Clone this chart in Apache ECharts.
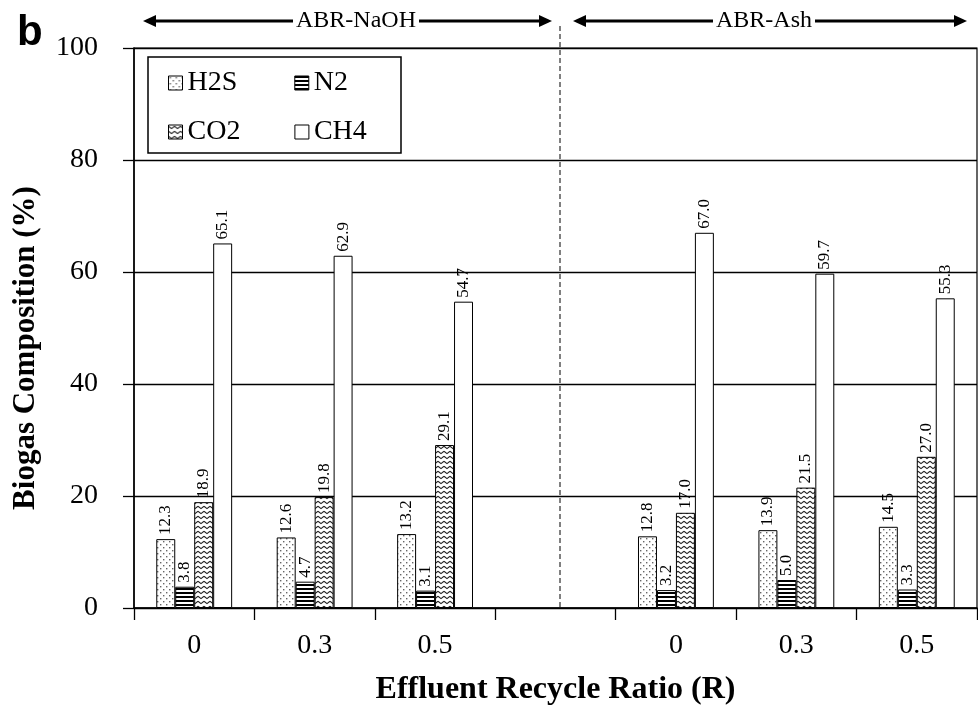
<!DOCTYPE html>
<html>
<head>
<meta charset="utf-8">
<script src="https://cdn.jsdelivr.net/npm/echarts@6/dist/echarts.min.js"></script>
<style>
  html, body { margin: 0; padding: 0; background: #fff; }
  #chart { width: 978px; height: 708px; }
</style>
</head>
<body>
<div id="chart"></div>
<script>
// recycle ratios, blank slot separates the two reactors
var categories = ['0', '0.3', '0.5', '', '0', '0.3', '0.5'];
var h2s = [12.3, 12.6, 13.2, '-', 12.8, 13.9, 14.5];
var n2 = [3.8, 4.7, 3.1, '-', 3.2, 5.0, 3.3];
var co2 = [18.9, 19.8, 29.1, '-', 17.0, 21.5, 27.0];
var ch4 = [65.1, 62.9, 54.7, '-', 67.0, 59.7, 55.3];
var yTicks = [0, 20, 40, 60, 80, 100];

var serif = 'Liberation Serif';

function makePattern(w, h, draw) {
  var c = document.createElement('canvas');
  c.width = w; c.height = h;
  var ctx = c.getContext('2d');
  ctx.fillStyle = '#fff';
  ctx.fillRect(0, 0, w, h);
  draw(ctx);
  return { image: c, repeat: 'repeat' };
}

// dotted fill
var dots = makePattern(6, 6, function (ctx) {
  ctx.fillStyle = '#666';
  ctx.fillRect(1, 1, 1.4, 1.4);
  ctx.fillRect(4, 4, 1.4, 1.4);
});
// horizontal stripes
var stripes = makePattern(4, 4, function (ctx) {
  ctx.fillStyle = '#000';
  ctx.fillRect(0, 0, 4, 2);
});
// zigzag waves
var waves = makePattern(6, 5, function (ctx) {
  ctx.strokeStyle = '#222';
  ctx.lineWidth = 1.1;
  ctx.beginPath();
  ctx.moveTo(0, 1.2);
  ctx.lineTo(3, 3.6);
  ctx.lineTo(6, 1.2);
  ctx.stroke();
});

function barSeries(name, data, fill) {
  return {
    name: name,
    type: 'bar',
    data: data,
    barGap: '0%',
    barCategoryGap: '37%',
    itemStyle: { color: fill, borderColor: '#000', borderWidth: 1 },
    label: {
      show: true,
      position: 'top',
      rotate: 90,
      align: 'left',
      verticalAlign: 'middle',
      distance: 4,
      fontFamily: serif,
      fontSize: 17,
      color: '#000',
      formatter: function (p) { return Number(p.value).toFixed(1); }
    }
  };
}

var chart = echarts.init(document.getElementById('chart'));

var legendText = { fontFamily: serif, fontSize: 28, color: '#000' };

var option = {
  animation: false,
  backgroundColor: '#fff',
  grid: {
    left: 134, right: 1, top: 48, bottom: 100,
    outerBoundsMode: 'none',
    containLabel: false,
    show: true, borderColor: '#000', borderWidth: 1.2
  },
  legend: [
    {
      data: ['H2S', 'N2'], left: 168, top: 69, padding: 0, itemGap: 57,
      icon: 'rect', itemWidth: 14, itemHeight: 14, textStyle: legendText,
      itemStyle: { borderColor: '#000', borderWidth: 1 }
    },
    {
      data: ['CO2', 'CH4'], left: 168, top: 118, padding: 0, itemGap: 54,
      icon: 'rect', itemWidth: 14, itemHeight: 14, textStyle: legendText,
      itemStyle: { borderColor: '#000', borderWidth: 1 }
    }
  ],
  xAxis: {
    type: 'category',
    data: categories,
    name: 'Effluent Recycle Ratio (R)',
    nameLocation: 'middle',
    nameGap: 66,
    nameTextStyle: { fontFamily: serif, fontSize: 32, fontWeight: 'bold', color: '#000' },
    axisLine: { lineStyle: { color: '#000', width: 1.5 } },
    axisTick: { show: true, length: 12, lineStyle: { color: '#000', width: 1.3 } },
    axisLabel: { fontFamily: serif, fontSize: 28, color: '#000', margin: 24 }
  },
  yAxis: {
    type: 'value',
    min: yTicks[0],
    max: yTicks[yTicks.length - 1],
    interval: 20,
    name: 'Biogas Composition (%)',
    nameLocation: 'middle',
    nameRotate: 90,
    nameGap: 93,
    nameTextStyle: {
      fontFamily: serif, fontSize: 31, fontWeight: 'bold', color: '#000',
      padding: [0, 40, 0, 0]
    },
    axisLine: { show: true, lineStyle: { color: '#000', width: 1.5 } },
    axisTick: { show: true, length: 11, lineStyle: { color: '#000', width: 1.3 } },
    axisLabel: { fontFamily: serif, fontSize: 28, color: '#000', margin: 36 },
    splitLine: { lineStyle: { color: '#000', width: 1.3 } }
  },
  graphic: [
    // panel letter
    { type: 'text', left: 17, top: 12,
      style: { text: 'b', font: 'bold 42px "Liberation Sans"', fill: '#000' } },
    // legend frame
    { type: 'rect', shape: { x: 148, y: 57, width: 253, height: 96 },
      style: { fill: 'none', stroke: '#000', lineWidth: 1.5 }, z: 10 },
    // divider between reactors
    { type: 'line', shape: { x1: 560, y1: 26, x2: 560, y2: 607 },
      style: { stroke: '#000', lineWidth: 1, lineDash: [5, 3] }, z: 10 },
    // ABR-NaOH span
    { type: 'line', shape: { x1: 150, y1: 21, x2: 545, y2: 21 },
      style: { stroke: '#000', lineWidth: 3 }, z: 10 },
    { type: 'polygon', shape: { points: [[143, 21], [156, 15], [156, 27]] },
      style: { fill: '#000' }, z: 10 },
    { type: 'polygon', shape: { points: [[552, 21], [539, 15], [539, 27]] },
      style: { fill: '#000' }, z: 10 },
    { type: 'text', x: 356, y: 21, z: 11,
      style: { text: 'ABR-NaOH', font: '24px "Liberation Serif"', fill: '#000',
        align: 'center', verticalAlign: 'middle', backgroundColor: '#fff', padding: [0, 3] } },
    // ABR-Ash span
    { type: 'line', shape: { x1: 580, y1: 21, x2: 960, y2: 21 },
      style: { stroke: '#000', lineWidth: 3 }, z: 10 },
    { type: 'polygon', shape: { points: [[573, 21], [586, 15], [586, 27]] },
      style: { fill: '#000' }, z: 10 },
    { type: 'polygon', shape: { points: [[967, 21], [954, 15], [954, 27]] },
      style: { fill: '#000' }, z: 10 },
    { type: 'text', x: 764, y: 21, z: 11,
      style: { text: 'ABR-Ash', font: '24px "Liberation Serif"', fill: '#000',
        align: 'center', verticalAlign: 'middle', backgroundColor: '#fff', padding: [0, 3] } }
  ],
  series: [
    barSeries('H2S', h2s, dots),
    barSeries('N2', n2, stripes),
    barSeries('CO2', co2, waves),
    barSeries('CH4', ch4, '#fff')
  ]
};

chart.setOption(option);
</script>
</body>
</html>
